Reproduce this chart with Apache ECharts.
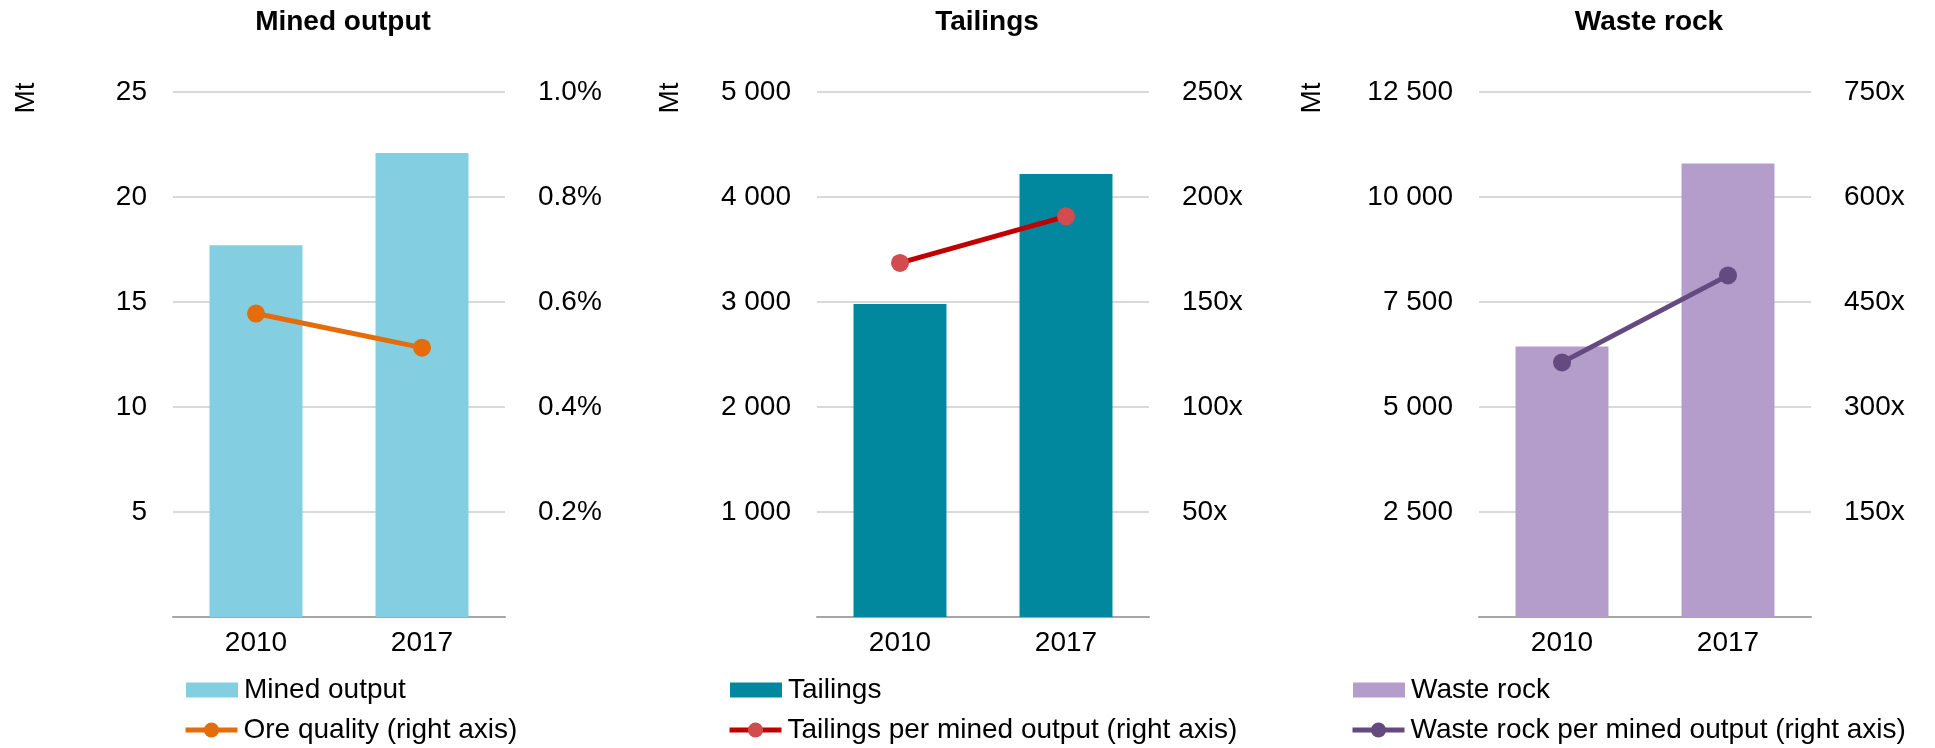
<!DOCTYPE html>
<html>
<head>
<meta charset="utf-8">
<title>Mined output, tailings and waste rock</title>
<script src="https://cdn.jsdelivr.net/npm/echarts@6/dist/echarts.min.js"></script>
<style>
  html, body { margin: 0; padding: 0; background: #ffffff; }
  #chart { width: 1935px; height: 748px; }
</style>
</head>
<body>
<div id="chart"></div>
<script>
// Years on the category axis
const categories = ['2010', '2017'];

// Mined output (Mt) and ore quality (%)
const minedOutput = [17.7, 22.1];
const oreQuality = [0.578, 0.513];

// Tailings (Mt) and tailings per unit of mined output (x)
const tailings = [2980, 4220];
const tailingsPerMined = [168.6, 190.8];

// Waste rock (Mt) and waste rock per unit of mined output (x)
const wasteRock = [6440, 10800];
const wastePerMined = [363.7, 488];

// Axis scales: [max, interval] for left and right axes of each panel
const leftScales = [[25, 5], [5000, 1000], [12500, 2500]];
const rightScales = [[1.0, 0.2], [250, 50], [750, 150]];

const panelTitles = ['Mined output', 'Tailings', 'Waste rock'];
const barNames = ['Mined output', 'Tailings', 'Waste rock'];
const lineNames = ['Ore quality (right axis)', 'Tailings per mined output (right axis)', 'Waste rock per mined output (right axis)'];
const unitLabel = 'Mt';

const FONT = '"Liberation Sans", Arial, Helvetica, sans-serif';
const TEXT = '#000000';
const FS = 28;

const barData = [minedOutput, tailings, wasteRock];
const lineData = [oreQuality, tailingsPerMined, wastePerMined];

const barColors = ['#83CEE0', '#02889E', '#B49DCA'];
const lineColors = ['#E46C0A', '#C00000', '#654A80'];
const markerColors = ['#E46C0A', '#D24B4F', '#654A80'];

// Panel geometry
const gridLefts = [173, 817, 1479];
const gridWidth = 332;
const gridTop = 92;
const gridHeight = 525;
const legendLefts = [186, 730, 1353];
const unitX = [26, 670, 1312];

function spaceThousands(v) {
  return String(v).replace(/\B(?=(\d{3})+(?!\d))/g, ' ');
}
const rightFormatters = [
  v => v.toFixed(1) + '%',
  v => v + 'x',
  v => v + 'x'
];

const grid = [], xAxis = [], yAxis = [], series = [], title = [], legend = [], graphic = [];
const legendText = { color: TEXT, fontSize: FS, fontFamily: FONT, padding: [0, 0, 0, 1] };

for (let i = 0; i < 3; i++) {
  grid.push({ left: gridLefts[i], top: gridTop, width: gridWidth, height: gridHeight, containLabel: false });

  xAxis.push({
    type: 'category', gridIndex: i, data: categories,
    axisTick: { show: false },
    axisLine: { lineStyle: { color: '#A6A6A6', width: 2 } },
    axisLabel: { color: TEXT, fontSize: FS, fontFamily: FONT, margin: 12 },
    splitLine: { show: false }
  });

  yAxis.push({
    type: 'value', gridIndex: i, min: 0, max: leftScales[i][0], interval: leftScales[i][1],
    axisLine: { show: false }, axisTick: { show: false },
    axisLabel: { color: TEXT, fontSize: FS, fontFamily: FONT, margin: 26, showMinLabel: false,
      formatter: v => spaceThousands(v) },
    splitLine: { lineStyle: { color: '#D9D9D9', width: 2 } }
  });
  yAxis.push({
    type: 'value', gridIndex: i, position: 'right', min: 0, max: rightScales[i][0], interval: rightScales[i][1],
    axisLine: { show: false }, axisTick: { show: false },
    axisLabel: { color: TEXT, fontSize: FS, fontFamily: FONT, margin: 33, showMinLabel: false,
      formatter: rightFormatters[i] },
    splitLine: { show: false }
  });

  series.push({
    name: barNames[i], type: 'bar', xAxisIndex: i, yAxisIndex: 2 * i,
    data: barData[i], barCategoryGap: '44%',
    itemStyle: { color: barColors[i] }
  });
  series.push({
    name: lineNames[i], type: 'line', xAxisIndex: i, yAxisIndex: 2 * i + 1,
    data: lineData[i], symbol: 'circle', symbolSize: 18,
    lineStyle: { color: lineColors[i], width: 5 },
    itemStyle: { color: markerColors[i] },
    z: 3
  });

  title.push({
    text: panelTitles[i], left: gridLefts[i] + gridWidth / 2 + 4, top: 8, padding: 0,
    textAlign: 'center',
    textStyle: { color: TEXT, fontSize: FS, fontWeight: 'bold', fontFamily: FONT }
  });

  // Bar entry: plain rectangle swatch
  legend.push({
    data: [{ name: barNames[i], icon: 'rect' }],
    orient: 'vertical', left: legendLefts[i], top: 676, padding: 0,
    itemWidth: 52, itemHeight: 15,
    selectedMode: false,
    textStyle: legendText
  });
  // Line entry: thick line with a round marker
  legend.push({
    data: [lineNames[i]],
    orient: 'vertical', left: legendLefts[i] - 3, top: 716, padding: 0,
    itemWidth: 52, itemHeight: 19,
    lineStyle: { width: 5 },
    selectedMode: false,
    textStyle: legendText
  });

  graphic.push({
    type: 'text', x: unitX[i], y: 98, rotation: Math.PI / 2,
    style: { text: unitLabel, fill: TEXT, font: FS + 'px ' + FONT, align: 'center', verticalAlign: 'middle' }
  });
}

const chart = echarts.init(document.getElementById('chart'), null, { renderer: 'canvas' });
chart.setOption({
  backgroundColor: '#ffffff',
  animation: false,
  title, legend, grid, xAxis, yAxis, series, graphic
});
</script>
</body>
</html>
